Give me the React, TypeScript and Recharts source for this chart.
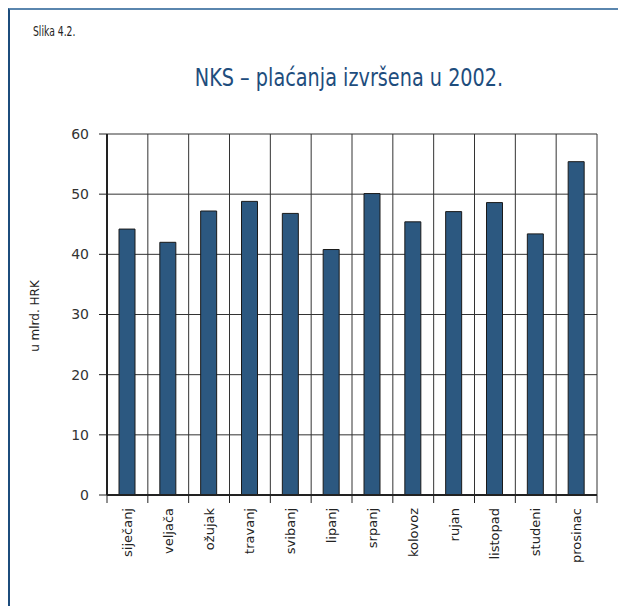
import React from 'react';
import { BarChart, Bar, XAxis, YAxis, CartesianGrid } from 'recharts';

const months = ['siječanj', 'veljača', 'ožujak', 'travanj', 'svibanj', 'lipanj', 'srpanj', 'kolovoz', 'rujan', 'listopad', 'studeni', 'prosinac'];
const payments = [44.2, 42.0, 47.2, 48.8, 46.8, 40.8, 50.1, 45.4, 47.1, 48.6, 43.4, 55.4];
const yTicks = [0, 10, 20, 30, 40, 50, 60];

const data = months.map((m, i) => ({ month: m, value: payments[i] }));

const FONT = '"DejaVu Sans", sans-serif';

const MonthTick = (props: any) => {
  const { x, y, payload, index } = props;
  const off = payload.offset || 0;
  const last = index === months.length - 1;
  return (
    <g>
      <line x1={x - off} x2={x - off} y1={y} y2={y + 8} stroke="#222" strokeWidth={1} />
      {last && <line x1={x + off} x2={x + off} y1={y} y2={y + 8} stroke="#222" strokeWidth={1} />}
      <text
        x={x}
        y={y + 13}
        transform={`rotate(-90, ${x}, ${y + 13})`}
        textAnchor="end"
        dy="0.35em"
        fontSize={13}
        fontFamily={FONT}
        fill="#222"
      >
        {payload.value}
      </text>
    </g>
  );
};

const boundaryGenerator = (props: any) => {
  const xAxis = props.xAxis;
  const s = xAxis && xAxis.scale;
  if (typeof s === 'function') {
    const bw = typeof s.bandwidth === 'function' ? s.bandwidth() : 0;
    const pts = months.map((m) => s(m));
    pts.push(s(months[months.length - 1]) + bw);
    return pts;
  }
  const { left, width } = props.offset;
  const step = width / months.length;
  return [...months.map((_, i) => left + i * step), left + width];
};

export default function App() {
  return (
    <div
      style={{
        position: 'relative',
        width: 616,
        height: 596,
        borderTop: '2px solid #5a86ae',
        borderLeft: '2px solid #1c4c7c',
        background: '#fff',
      }}
    >
      <div
        style={{
          position: 'absolute',
          left: 23,
          top: 13,
          fontFamily: FONT,
          fontSize: 14,
          color: '#222',
          transform: 'scaleX(0.66)',
          transformOrigin: 'left center',
          whiteSpace: 'nowrap',
        }}
      >
        Slika 4.2.
      </div>
      <div
        style={{
          position: 'absolute',
          left: 0,
          width: 678,
          top: 53,
          textAlign: 'center',
          fontFamily: FONT,
          fontSize: 25,
          color: '#1e4d7d',
          transform: 'scaleX(0.77)',
          transformOrigin: 'center center',
          whiteSpace: 'nowrap',
        }}
      >
        NKS – plaćanja izvršena u 2002.
      </div>
      <div
        style={{
          position: 'absolute',
          left: 25,
          top: 306,
          transform: 'translate(-50%, -50%) rotate(-90deg)',
          whiteSpace: 'nowrap',
          fontFamily: FONT,
          fontSize: 12,
          color: '#222',
        }}
      >
        u mlrd. HRK
      </div>
      <div style={{ position: 'absolute', left: -2, top: -2 }}>
        <BarChart
          width={618}
          height={598}
          data={data}
          margin={{ top: 126, right: 29, bottom: 31, left: 59 }}
          barSize={16}
        >
          <CartesianGrid stroke="#333" strokeWidth={1} verticalCoordinatesGenerator={boundaryGenerator} />
          <XAxis
            dataKey="month"
            interval={0}
            height={80}
            tickSize={0}
            tickMargin={0}
            tickLine={false}
            axisLine={{ stroke: '#222', strokeWidth: 2 }}
            tick={<MonthTick />}
          />
          <YAxis
            domain={[0, 60]}
            ticks={yTicks}
            width={40}
            tickSize={8}
            tickMargin={10}
            axisLine={{ stroke: '#222', strokeWidth: 2 }}
            tickLine={{ stroke: '#222' }}
            tick={{ fontSize: 14, fontFamily: FONT, fill: '#333' }}
          />
          <Bar dataKey="value" fill="#2c5880" stroke="#1a1a1a" strokeWidth={1} isAnimationActive={false} />
        </BarChart>
      </div>
    </div>
  );
}
